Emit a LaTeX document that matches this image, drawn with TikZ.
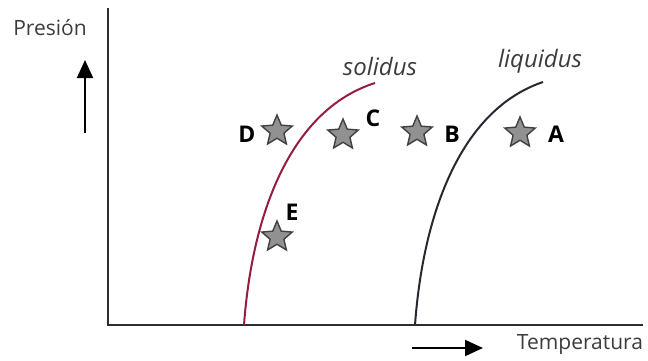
\documentclass[tikz,border=0pt]{standalone}
\usepackage{fontspec}
\setmainfont{Open Sans}
\usetikzlibrary{shapes.geometric,arrows.meta}
\definecolor{axisgray}{RGB}{45,45,45}
\definecolor{stargray}{RGB}{145,145,145}
\definecolor{stardark}{RGB}{65,65,65}
\definecolor{solidred}{RGB}{150,30,60}
\definecolor{liqdark}{RGB}{40,40,50}
\definecolor{textgray}{RGB}{60,60,60}
\begin{document}
\begin{tikzpicture}[x=1pt,y=-1pt,
  axisline/.style={line width=2.4pt, draw=axisgray},
  curvesol/.style={line width=2pt, draw=solidred},
  curveliq/.style={line width=2pt, draw=liqdark},
  starnode/.style={star, star points=5, star point ratio=2.2, minimum size=32pt, inner sep=0pt, fill=stargray, draw=stardark, line width=1.4pt},
  letter/.style={font=\fontsize{23}{23}\selectfont\bfseries, text=black, inner sep=0pt},
  axislabel/.style={font=\fontsize{21}{21}\selectfont, text=textgray, inner sep=0pt},
  curvelabel/.style={font=\fontsize{24}{24}\selectfont\itshape, text=textgray, inner sep=0pt},
  dirarrow/.style={line width=2pt, draw=black, -{Triangle[length=18pt,width=16pt]}}
]
\path[use as bounding box] (0,0) rectangle (648,360);
% axes
\coordinate (ytop) at (108,8);
\coordinate (origin) at (108,325);
\coordinate (xend) at (643,325);
\draw[axisline] (ytop) -- (origin) -- (xend);
% axis labels
\node[axislabel] (pres) at (50,28) {Presión};
\node[axislabel] (temp) at (580,345) {Temperatura};
\coordinate (upstart) at (85,133);
\coordinate (upend) at (85,60);
\draw[dirarrow] (upstart) -- (upend);
\coordinate (rstart) at (412,348);
\coordinate (rend) at (483,348);
\draw[dirarrow] (rstart) -- (rend);
% curves
\coordinate (sol0) at (244,325);
\coordinate (sol1) at (375,83);
\draw[curvesol] (sol0) .. controls (252,215) and (290,110) .. (sol1);
\coordinate (liq0) at (415,325);
\coordinate (liq1) at (543,82);
\draw[curveliq] (liq0) .. controls (423,215) and (460,110) .. (liq1);
\node[curvelabel] (soltext) at (380,66) {solidus};
\node[curvelabel] (liqtext) at (540,61) {liquidus};
% stars
\node[starnode] (sD) at (277,131) {};
\node[starnode] (sC) at (343,135) {};
\node[starnode] (sB) at (417,132) {};
\node[starnode] (sA) at (520,133) {};
\node[starnode] (sE) at (277,237) {};
\node[letter] (lD) at (247,134) {D};
\node[letter] (lC) at (373,118) {C};
\node[letter] (lB) at (452,134) {B};
\node[letter] (lA) at (556,134) {A};
\node[letter] (lE) at (292,212) {E};
\end{tikzpicture}
\end{document}
